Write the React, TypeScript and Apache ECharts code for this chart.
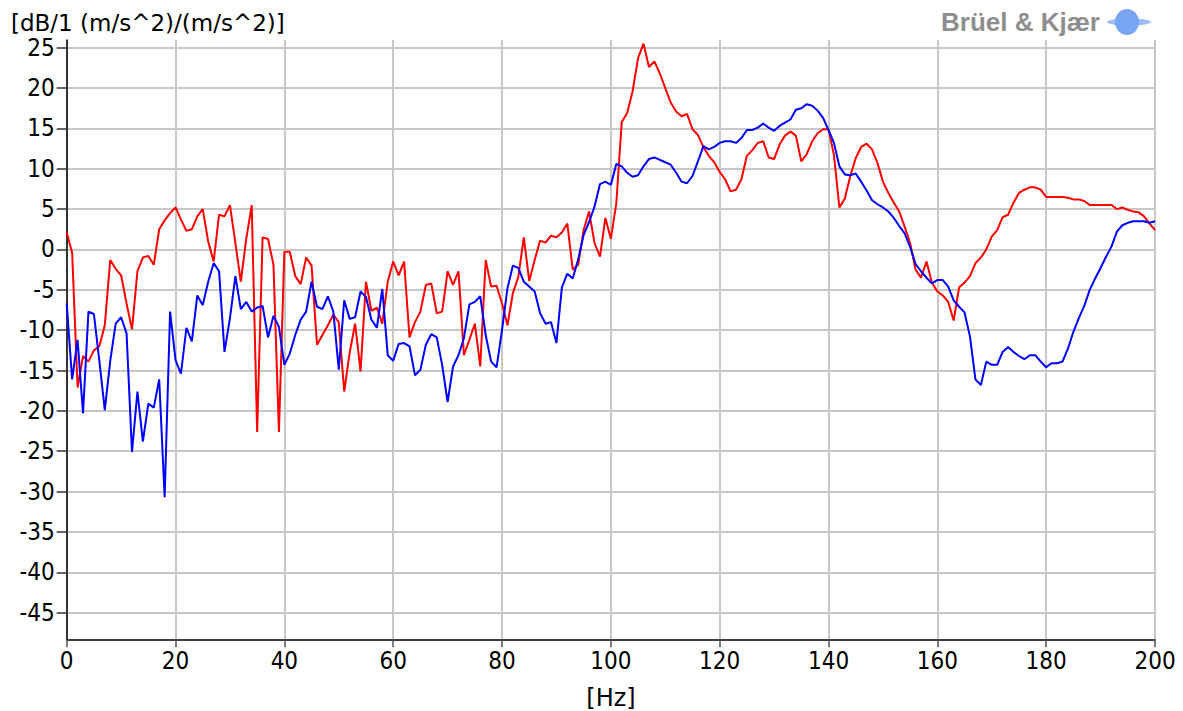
import React, { useEffect, useRef } from "react";
import * as echarts from "echarts";

// Frequency bins (Hz), 1 Hz resolution from 0 to 200
const FREQ_STEP_HZ = 1;

const RED_DB = [
  2.1, -0.4, -17.1, -13.2, -13.9, -12.5, -12.0, -9.4, -1.3, -2.4,
  -3.2, -6.7, -9.9, -2.7, -1.0, -0.8, -1.9, 2.5, 3.6, 4.5,
  5.2, 3.7, 2.3, 2.5, 4.1, 5.0, 1.0, -1.5, 4.3, 4.1,
  5.5, 0.8, -4.0, 1.3, 5.5, -22.6, 1.5, 1.3, -1.9, -22.6,
  -0.3, -0.3, -3.3, -4.3, -1.0, -2.0, -11.8, -10.6, -9.4, -8.1,
  -9.0, -17.6, -12.8, -9.2, -15.1, -4.0, -7.6, -7.2, -9.2, -4.0,
  -1.5, -3.2, -1.5, -10.9, -9.0, -7.7, -4.4, -4.2, -7.9, -7.7,
  -2.7, -4.4, -2.7, -13.1, -11.2, -9.2, -14.5, -1.3, -4.6, -4.5,
  -6.7, -9.4, -5.4, -3.4, 1.5, -3.9, -1.3, 1.1, 0.85, 1.7,
  1.5, 2.1, 3.2, -2.5, -1.9, 2.4, 4.7, 0.8, -0.9, 3.9,
  1.3, 5.7, 15.8, 16.9, 19.6, 23.7, 25.5, 22.6, 23.3, 21.8,
  20.0, 18.2, 17.1, 16.5, 16.8, 14.9, 14.2, 12.7, 11.6, 10.8,
  9.6, 8.7, 7.2, 7.4, 8.7, 11.6, 12.3, 13.2, 13.4, 11.4,
  11.2, 13.0, 14.1, 14.6, 14.1, 10.9, 11.8, 13.4, 14.4, 14.9,
  14.9, 11.7, 5.2, 6.3, 9.1, 11.3, 12.7, 13.1, 12.4, 10.7,
  8.4, 7.0, 5.8, 4.7, 2.8, 0.8, -2.5, -3.5, -1.5, -4.1,
  -5.2, -5.7, -6.5, -8.8, -4.7, -4.1, -3.3, -1.7, -1.0, 0.0,
  1.6, 2.4, 4.0, 4.3, 5.8, 7.0, 7.4, 7.7, 7.7, 7.4,
  6.5, 6.5, 6.5, 6.5, 6.4, 6.2, 6.2, 6.0, 5.5, 5.5,
  5.5, 5.5, 5.5, 5.0, 5.2, 4.9, 4.7, 4.6, 4.1, 3.2,
  2.4,
];

const BLUE_DB = [
  -6.7, -16.1, -11.2, -20.3, -7.7, -8.0, -13.8, -19.9, -13.8, -9.2,
  -8.4, -10.4, -25.1, -17.6, -23.8, -19.1, -19.6, -16.1, -30.7, -7.7,
  -13.7, -15.4, -9.7, -11.4, -5.7, -6.9, -4.0, -1.7, -2.7, -12.7,
  -8.5, -3.3, -7.4, -6.5, -7.7, -7.2, -7.0, -10.9, -8.2, -9.6,
  -14.3, -12.9, -10.6, -8.7, -7.7, -4.0, -7.1, -7.4, -5.8, -7.7,
  -14.9, -6.3, -8.6, -8.4, -5.2, -5.9, -8.7, -9.7, -4.9, -13.1,
  -13.8, -11.7, -11.6, -12.0, -15.6, -14.9, -11.8, -10.5, -10.9, -14.3,
  -18.9, -14.5, -13.1, -11.0, -6.8, -6.5, -5.8, -10.6, -13.9, -14.6,
  -10.0, -4.8, -2.0, -2.3, -4.0, -4.6, -5.2, -7.9, -9.2, -9.0,
  -11.6, -4.7, -3.0, -3.6, -1.2, 1.8, 3.4, 5.3, 8.1, 8.4,
  8.0, 10.6, 10.3, 9.5, 9.0, 9.2, 10.3, 11.2, 11.4, 11.1,
  10.8, 10.5, 9.5, 8.4, 8.2, 9.1, 10.9, 12.8, 12.4, 12.7,
  13.2, 13.4, 13.4, 13.2, 13.8, 14.8, 14.8, 15.1, 15.6, 15.1,
  14.7, 15.3, 15.7, 16.1, 17.3, 17.5, 18.0, 17.8, 17.2, 16.3,
  14.8, 13.2, 10.3, 9.3, 9.2, 9.4, 8.4, 7.3, 6.1, 5.6,
  5.2, 4.7, 3.9, 2.9, 2.0, 0.3, -1.8, -2.7, -3.5, -4.2,
  -3.8, -3.8, -4.6, -6.3, -7.1, -7.8, -10.8, -16.1, -16.8, -13.9,
  -14.3, -14.3, -12.7, -12.1, -12.7, -13.2, -13.6, -13.1, -13.1, -13.9,
  -14.6, -14.1, -14.1, -13.9, -12.3, -10.2, -8.5, -7.0, -5.0, -3.6,
  -2.3, -0.9, 0.35, 2.2, 3.0, 3.3, 3.5, 3.5, 3.5, 3.3,
  3.5,
];

const Y_TICKS = [-45, -40, -35, -30, -25, -20, -15, -10, -5, 0, 5, 10, 15, 20, 25];
const X_TICKS = [0, 20, 40, 60, 80, 100, 120, 140, 160, 180, 200];

const Y_TITLE = "[dB/1 (m/s^2)/(m/s^2)]";
const X_TITLE = "[Hz]";
const LOGO_TEXT = "Brüel & Kjær";

const FONT = "'DejaVu Sans Condensed', 'Noto Sans', 'DejaVu Sans', sans-serif";
const TITLE_FONT = "'DejaVu Sans', 'Noto Sans', sans-serif";

export default function App() {
  const ref = useRef<HTMLDivElement>(null);

  useEffect(() => {
    document.body.style.margin = "0";
    if (!ref.current) return;
    const chart = echarts.init(ref.current, null, { renderer: "svg" });

    const toPairs = (arr: number[]) => arr.map((v, i) => [i * FREQ_STEP_HZ, v]);

    const option: any = {
      animation: false,
      backgroundColor: "#ffffff",
      grid: {
        left: 66.7,
        right: 28,
        top: 40,
        bottom: 71.7,
        containLabel: false,
        outerBoundsMode: "none",
      },
      xAxis: {
        type: "value",
        min: 0,
        max: 200,
        interval: 20,
        axisLine: { show: true, onZero: false, lineStyle: { color: "#000000", width: 1.5 } },
        axisTick: {
          show: true,
          length: 8,
          inside: false,
          customValues: X_TICKS,
          lineStyle: { color: "#555555", width: 1.5 },
        },
        axisLabel: {
          show: true,
          customValues: X_TICKS,
          margin: 12,
          color: "#000000",
          fontSize: 24,
          lineHeight: 20,
          fontFamily: FONT,
        },
        splitLine: { show: true, lineStyle: { color: "#c8c8c8", width: 2 } },
      },
      yAxis: {
        type: "value",
        min: -48.3,
        max: 25.95,
        axisLine: { show: true, onZero: false, lineStyle: { color: "#000000", width: 1.5 } },
        axisTick: {
          show: true,
          length: 10,
          inside: false,
          customValues: Y_TICKS,
          lineStyle: { color: "#333333", width: 1.5 },
        },
        axisLabel: {
          show: true,
          customValues: Y_TICKS,
          margin: 12,
          color: "#000000",
          fontSize: 24,
          lineHeight: 20,
          fontFamily: FONT,
        },
        splitLine: { show: true, lineStyle: { color: "#c8c8c8", width: 2 } },
      },
      series: [
        {
          type: "line",
          name: "red",
          data: toPairs(RED_DB),
          showSymbol: false,
          symbol: "none",
          lineStyle: { color: "#ff0000", width: 2 },
          itemStyle: { color: "#ff0000" },
          z: 3,
        },
        {
          type: "line",
          name: "blue",
          data: toPairs(BLUE_DB),
          showSymbol: false,
          symbol: "none",
          lineStyle: { color: "#0000ff", width: 2 },
          itemStyle: { color: "#0000ff" },
          z: 4,
        },
      ],
      graphic: [
        {
          type: "text",
          x: 11,
          y: 23,
          style: {
            text: Y_TITLE,
            fill: "#000000",
            fontSize: 23,
            lineHeight: 20,
            fontFamily: TITLE_FONT,
            align: "left",
            verticalAlign: "middle",
          },
        },
        {
          type: "text",
          x: 611,
          y: 698,
          style: {
            text: X_TITLE,
            fill: "#000000",
            fontSize: 24,
            fontFamily: TITLE_FONT,
            align: "center",
            verticalAlign: "middle",
          },
        },
        {
          type: "text",
          x: 941,
          y: 22,
          style: {
            text: LOGO_TEXT,
            fill: "#8e8e8e",
            fontSize: 26,
            fontWeight: "bold",
            fontFamily: "'Liberation Sans', Arial, sans-serif",
            align: "left",
            verticalAlign: "middle",
          },
        },
        {
          type: "ellipse",
          shape: { cx: 1129, cy: 22, rx: 22, ry: 3.5 },
          style: { fill: "#9dbcf6" },
        },
        {
          type: "ellipse",
          shape: { cx: 1127, cy: 22, rx: 12, ry: 13 },
          style: { fill: "#7aa5f4" },
        },
      ],
    };

    chart.setOption(option);
    return () => {
      chart.dispose();
    };
  }, []);

  return <div ref={ref} style={{ width: 1183, height: 711 }} />;
}
